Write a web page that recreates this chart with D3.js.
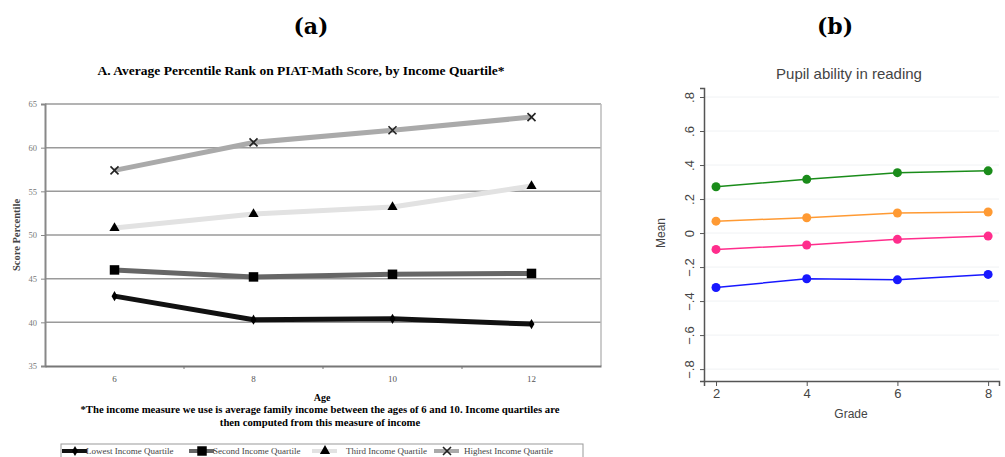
<!DOCTYPE html>
<html>
<head>
<meta charset="utf-8">
<script src="https://cdn.jsdelivr.net/npm/d3@7"></script>
<style>
  body { margin: 0; background: #fff; }
  svg { display: block; }
</style>
</head>
<body>
<svg id="chart" width="1005" height="457"></svg>
<script>
// ---- panel (a) data
const ages = ["6", "8", "10", "12"];
const quartileNames = ["Lowest Income Quartile", "Second Income Quartile", "Third Income Quartile", "Highest Income Quartile"];
const lowest = [43.0, 40.3, 40.4, 39.8];
const second = [46.0, 45.2, 45.5, 45.6];
const third = [50.8, 52.4, 53.2, 55.6];
const highest = [57.4, 60.6, 62.0, 63.5];
const yTicksA = [35, 40, 45, 50, 55, 60, 65];

// ---- panel (b) data
const grades = [2, 4, 6, 8];
const groupA = [0.272, 0.316, 0.355, 0.366];
const groupB = [0.070, 0.090, 0.118, 0.124];
const groupC = [-0.096, -0.070, -0.037, -0.018];
const groupD = [-0.320, -0.269, -0.275, -0.243];
const yTicksB = [-0.8, -0.6, -0.4, -0.2, 0, 0.2, 0.4, 0.6, 0.8];

const svg = d3.select("#chart");
const serif = "'Liberation Serif', 'DejaVu Serif', serif";
const sans = "'Liberation Sans', Arial, sans-serif";

// panel labels
svg.append("text").attr("x", 311).attr("y", 34).attr("text-anchor", "middle")
    .style("font-family", "'DejaVu Serif', serif").style("font-weight", "bold").style("font-size", "22px")
    .text("(a)");
svg.append("text").attr("x", 835).attr("y", 34).attr("text-anchor", "middle")
    .style("font-family", "'DejaVu Serif', serif").style("font-weight", "bold").style("font-size", "22px")
    .text("(b)");

// ================= panel (a)
let a = svg.append("g");

let xA = d3.scaleBand().domain(ages).range([45, 601]);
let yA = d3.scaleLinear().domain([35, 65]).range([366, 104]);

a.append("text").attr("x", 301).attr("y", 75).attr("text-anchor", "middle")
    .style("font-family", serif).style("font-weight", "bold").style("font-size", "13.5px")
    .text("A. Average Percentile Rank on PIAT-Math Score, by Income Quartile*");

// gridlines
a.selectAll("line.grid")
    .data(yTicksA.filter(d => d > 35))
    .enter().append("line")
    .attr("class", "grid")
    .attr("x1", 45).attr("x2", 601)
    .attr("y1", d => yA(d)).attr("y2", d => yA(d))
    .style("stroke", "#9a9a9a")
    .style("stroke-width", "1.5px");

// right border
a.append("line").attr("x1", 601).attr("x2", 601).attr("y1", yA(65)).attr("y2", yA(35))
    .style("stroke", "#bbb").style("stroke-width", "1.5px");

let yAxisA = d3.axisLeft(yA).tickValues(yTicksA).tickSize(4).tickPadding(4);
let gyA = a.append("g").attr("transform", "translate(45,0)").call(yAxisA);
gyA.select(".domain").style("stroke", "#888").style("stroke-width", "2px");
gyA.selectAll(".tick line").style("stroke", "#888");
gyA.selectAll(".tick text").style("font-family", serif).style("font-size", "8.5px").style("fill", "#777");

let xAxisA = d3.axisBottom(xA).tickSize(0).tickPadding(10);
let gxA = a.append("g").attr("transform", "translate(0,366)").call(xAxisA);
gxA.select(".domain").style("stroke", "#777").style("stroke-width", "2px");
gxA.selectAll(".tick text").style("font-family", serif).style("font-size", "9px").style("fill", "#555");
// small ticks between bands
a.selectAll("line.btick")
    .data(ages.slice(1))
    .enter().append("line")
    .attr("x1", d => xA(d)).attr("x2", d => xA(d))
    .attr("y1", 366).attr("y2", 369)
    .style("stroke", "#777");

a.append("text").attr("transform", "translate(20,235) rotate(-90)").attr("text-anchor", "middle")
    .style("font-family", serif).style("font-weight", "bold").style("font-size", "10.5px").style("fill", "#444")
    .text("Score Percentile");
a.append("text").attr("x", 322).attr("y", 401).attr("text-anchor", "middle")
    .style("font-family", serif).style("font-weight", "bold").style("font-size", "10px")
    .text("Age");
a.append("text").attr("x", 320).attr("y", 413).attr("text-anchor", "middle")
    .style("font-family", serif).style("font-weight", "bold").style("font-size", "10.7px")
    .text("*The income measure we use is average family income between the ages of 6 and 10. Income quartiles are");
a.append("text").attr("x", 320).attr("y", 426).attr("text-anchor", "middle")
    .style("font-family", serif).style("font-weight", "bold").style("font-size", "10.7px")
    .text("then computed from this measure of income");

let seriesA = [
    { name: quartileNames[0], values: lowest, color: "#111", symbol: d3.symbolDiamond, size: 30 },
    { name: quartileNames[1], values: second, color: "#666", symbol: d3.symbolSquare, size: 90 },
    { name: quartileNames[2], values: third, color: "#e2e2e2", symbol: d3.symbolTriangle, size: 45 },
    { name: quartileNames[3], values: highest, color: "#aaa", symbol: d3.symbolCross, size: 70, cross: true }
];

let lineA = d3.line()
    .x((d, i) => xA(ages[i]) + xA.bandwidth() / 2)
    .y(d => yA(d));

seriesA.forEach(function (s) {
    a.append("path")
        .attr("d", lineA(s.values))
        .style("fill", "none")
        .style("stroke", s.color)
        .style("stroke-width", "5px")
        .style("stroke-linejoin", "round");
});

function drawMarker(g, s, x, y) {
    if (s.cross) {
        g.append("path")
            .attr("d", "M-4,-4L4,4M-4,4L4,-4")
            .attr("transform", "translate(" + x + "," + y + ")")
            .style("stroke", "#222").style("stroke-width", "1.6px").style("fill", "none");
    } else {
        g.append("path")
            .attr("d", d3.symbol().type(s.symbol).size(s.size)())
            .attr("transform", "translate(" + x + "," + y + ")")
            .style("fill", "#000");
    }
}

seriesA.forEach(function (s) {
    s.values.forEach(function (v, i) {
        drawMarker(a, s, xA(ages[i]) + xA.bandwidth() / 2, yA(v));
    });
});

// legend
let leg = a.append("g");
leg.append("rect").attr("x", 61).attr("y", 444).attr("width", 522).attr("height", 16)
    .style("fill", "#fff").style("stroke", "#999").style("stroke-width", "1px");
let legX = [62, 189, 312, 434];
let legTextX = [86, 213, 346, 464];
seriesA.forEach(function (s, i) {
    leg.append("line").attr("x1", legX[i]).attr("x2", legX[i] + 25).attr("y1", 451).attr("y2", 451)
        .style("stroke", s.color).style("stroke-width", "4px");
    drawMarker(leg, s, legX[i] + 13, 451);
    leg.append("text").attr("x", legTextX[i]).attr("y", 454)
        .style("font-family", serif).style("font-size", "9px").style("fill", "#444")
        .text(s.name);
});

// ================= panel (b)
let b = svg.append("g");

let xB = d3.scaleLinear().domain([1.735, 8.24]).range([704, 999]);
let yB = d3.scaleLinear().domain([-0.87, 0.853]).range([381, 88]);

b.append("text").attr("x", 849).attr("y", 79).attr("text-anchor", "middle")
    .style("font-family", sans).style("font-size", "15px").style("fill", "#444")
    .text("Pupil ability in reading");

b.selectAll("line.gridb")
    .data(yTicksB)
    .enter().append("line")
    .attr("x1", 705).attr("x2", 999)
    .attr("y1", d => yB(d)).attr("y2", d => yB(d))
    .style("stroke", "#f0f2f4").style("stroke-width", "1px");

let yAxisB = d3.axisLeft(yB).tickValues(yTicksB).tickSize(4).tickPadding(6)
    .tickFormat(d => d === 0 ? "0" : d3.format(".1f")(d).replace("0.", "."));
let gyB = b.append("g").attr("transform", "translate(704,0)").call(yAxisB);
gyB.select(".domain").style("stroke", "#555").style("stroke-width", "1.5px");
gyB.selectAll(".tick line").style("stroke", "#555");
gyB.selectAll(".tick text")
    .attr("transform", "translate(-15,0) rotate(-90)")
    .attr("x", 0).attr("y", 0).attr("dy", "0.35em")
    .style("text-anchor", "middle")
    .style("font-family", sans).style("font-size", "13px").style("fill", "#444");

let xAxisB = d3.axisBottom(xB).tickValues(grades).tickSize(5).tickPadding(3).tickFormat(d3.format("d"));
let gxB = b.append("g").attr("transform", "translate(0,381)").call(xAxisB);
gxB.select(".domain").style("stroke", "#555").style("stroke-width", "1.5px");
gxB.selectAll(".tick line").style("stroke", "#555");
gxB.selectAll(".tick text").style("font-family", sans).style("font-size", "13px").style("fill", "#444");

b.append("text").attr("x", 851).attr("y", 418).attr("text-anchor", "middle")
    .style("font-family", sans).style("font-size", "12px").style("fill", "#444")
    .text("Grade");
b.append("text").attr("transform", "translate(665,233) rotate(-90)").attr("text-anchor", "middle")
    .style("font-family", sans).style("font-size", "12px").style("fill", "#444")
    .text("Mean");

let seriesB = [
    { values: groupA, color: "#1a8c1a" },
    { values: groupB, color: "#ff9a33" },
    { values: groupC, color: "#ff2d8c" },
    { values: groupD, color: "#1818ff" }
];

let lineB = d3.line()
    .x((d, i) => xB(grades[i]))
    .y(d => yB(d));

seriesB.forEach(function (s) {
    b.append("path")
        .attr("d", lineB(s.values))
        .style("fill", "none")
        .style("stroke", s.color)
        .style("stroke-width", "1.5px");
    b.selectAll(null)
        .data(s.values)
        .enter().append("circle")
        .attr("cx", (d, i) => xB(grades[i]))
        .attr("cy", d => yB(d))
        .attr("r", 4.5)
        .style("fill", s.color);
});
</script>
</body>
</html>
